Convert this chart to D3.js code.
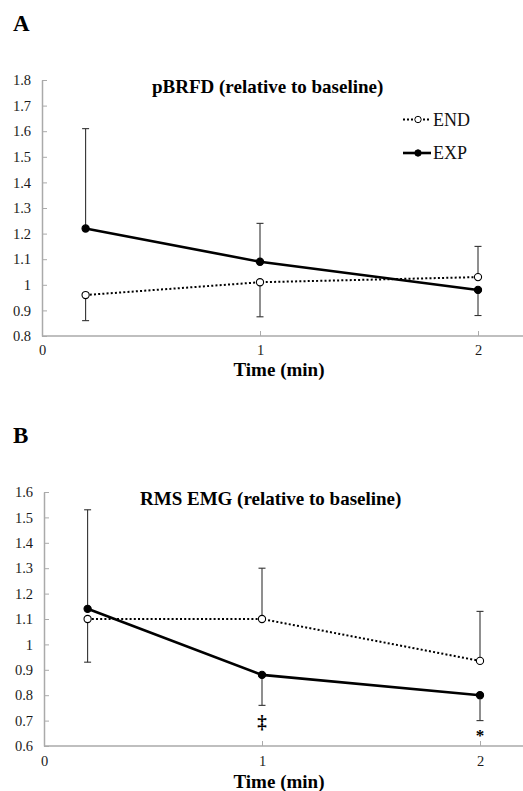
<!DOCTYPE html>
<html lang="en">
<head>
    <meta charset="UTF-8">
    <title>pBRFD and RMS EMG</title>
    <script src="https://d3js.org/d3.v7.min.js"></script>
    <style>
        body { margin: 0; background: #fff; }
        text { font-family: "Liberation Serif", "Times New Roman", serif; }
    </style>
</head>
<body>
    <script>
        // time points (min)
        const time = [0.2, 1, 2];
        const xTicks = [0, 1, 2];

        // panel A: pBRFD relative to baseline
        const aExpMean = [1.22, 1.09, 0.98];
        const aExpSD   = [0.39, 0.15, 0.10];
        const aExpDir  = [1, 1, -1];
        const aEndMean = [0.96, 1.01, 1.03];
        const aEndSD   = [0.10, 0.135, 0.12];
        const aEndDir  = [-1, -1, 1];
        const aTicks = [0.8, 0.9, 1, 1.1, 1.2, 1.3, 1.4, 1.5, 1.6, 1.7, 1.8];

        // panel B: RMS EMG relative to baseline
        const bExpMean = [1.14, 0.88, 0.80];
        const bExpSD   = [0.39, 0.12, 0.10];
        const bExpDir  = [1, -1, -1];
        const bEndMean = [1.10, 1.10, 0.935];
        const bEndSD   = [0.17, 0.20, 0.195];
        const bEndDir  = [-1, 1, 1];
        const bTicks = [0.6, 0.7, 0.8, 0.9, 1, 1.1, 1.2, 1.3, 1.4, 1.5, 1.6];
        const bMarks = [null, "‡", "*"];

        const w = 523;
        const h = 791;

        const svg = d3.select("body")
                        .append("svg")
                        .attr("width", w)
                        .attr("height", h);

        function series(mean, sd, dir) {
            return time.map((t, i) => ({t: t, v: mean[i], e: mean[i] + dir[i] * sd[i]}));
        }

        function drawPanel(p) {
            const g = svg.append("g");

            const xScale = d3.scaleLinear()
                         .domain([0, 2.21])
                         .range([p.left, p.left + 2.21 * 218]);
            const yScale = d3.scaleLinear()
                         .domain([p.ticks[0], p.ticks[p.ticks.length - 1]])
                         .range([p.bottom, p.top]);

            // panel letter
            g.append("text")
                .attr("x", 13).attr("y", p.letterY)
                .style("font-size", "23px").style("font-weight", "bold")
                .text(p.letter);

            const fmt = d => (d === 1 ? "1" : d3.format(".1f")(d));

            const yAxis = d3.axisLeft(yScale)
                .tickValues(p.ticks)
                .tickFormat(fmt)
                .tickSizeInner(-5)
                .tickSizeOuter(0)
                .tickPadding(11);
            const ya = g.append("g")
                .attr("transform", "translate(" + p.left + ",0)")
                .call(yAxis);

            const xAxis = d3.axisBottom(xScale)
                .tickValues(xTicks)
                .tickFormat(d3.format("d"))
                .tickSizeInner(-5)
                .tickSizeOuter(0)
                .tickPadding(p.xPad);
            const xa = g.append("g")
                .attr("transform", "translate(0," + p.bottom + ")")
                .call(xAxis);

            [ya, xa].forEach(a => {
                a.select(".domain").attr("stroke", "#aaa").attr("stroke-width", 1.5);
                a.selectAll(".tick line").attr("stroke", "#aaa");
                a.selectAll(".tick text")
                    .style("font-size", "14.5px")
                    .style("font-family", "'Liberation Serif', serif")
                    .attr("fill", "#1a1a1a");
            });
            xa.select(".domain").attr("d", "M" + p.left + ",0H" + w);
            xa.selectAll(".tick").filter(d => d === 0).select("line").remove();

            // axis title
            g.append("text")
                .attr("x", 279).attr("y", p.bottom + p.xTitleOff)
                .attr("text-anchor", "middle")
                .style("font-size", "19px").style("font-weight", "bold")
                .text("Time (min)");

            // chart title
            g.append("text")
                .attr("x", p.titleX).attr("y", p.titleY)
                .style("font-size", "19px").style("font-weight", "bold")
                .text(p.title);

            const line = d3.line()
                .x(d => xScale(d.t))
                .y(d => yScale(d.v));

            const groups = [
                {data: p.end, dash: "2,2.2", width: 2, fill: "#fff"},
                {data: p.exp, dash: null, width: 2.6, fill: "#000"}
            ];

            // error bars
            groups.forEach(s => {
                const eb = g.append("g").attr("stroke", "#333").attr("stroke-width", 1.1);
                eb.selectAll("line.v")
                    .data(s.data).enter().append("line")
                    .attr("x1", d => xScale(d.t)).attr("x2", d => xScale(d.t))
                    .attr("y1", d => yScale(d.v)).attr("y2", d => yScale(d.e));
                eb.selectAll("line.c")
                    .data(s.data).enter().append("line")
                    .attr("x1", d => xScale(d.t) - 3.5).attr("x2", d => xScale(d.t) + 3.5)
                    .attr("y1", d => yScale(d.e)).attr("y2", d => yScale(d.e));
            });

            // lines
            groups.forEach(s => {
                g.append("path")
                    .datum(s.data)
                    .attr("fill", "none")
                    .attr("stroke", "#000")
                    .attr("stroke-width", s.width)
                    .attr("stroke-dasharray", s.dash)
                    .attr("d", line);
            });

            // markers
            groups.forEach(s => {
                g.selectAll(null)
                    .data(s.data).enter().append("circle")
                    .attr("cx", d => xScale(d.t))
                    .attr("cy", d => yScale(d.v))
                    .attr("r", 3.6)
                    .attr("fill", s.fill)
                    .attr("stroke", "#000")
                    .attr("stroke-width", 1.1);
            });

            // significance marks
            if (p.marks) {
                g.selectAll(null)
                    .data(time.map((t, i) => ({t: t, m: p.marks[i]})).filter(d => d.m))
                    .enter().append("text")
                    .attr("x", d => xScale(d.t))
                    .attr("y", d => d.m === "*" ? p.bottom - 5 : p.bottom - 18)
                    .attr("text-anchor", "middle")
                    .style("font-size", d => d.m === "*" ? "17px" : "19px")
                    .style("font-weight", "bold")
                    .text(d => d.m);
            }

            // legend
            if (p.legend) {
                const lg = g.append("g");
                const items = [
                    {label: "END", y: 119.5, dash: "2,2", width: 2, fill: "#fff"},
                    {label: "EXP", y: 153, dash: null, width: 2.6, fill: "#000"}
                ];
                items.forEach(it => {
                    lg.append("line")
                        .attr("x1", 403).attr("x2", 431)
                        .attr("y1", it.y).attr("y2", it.y)
                        .attr("stroke", "#000")
                        .attr("stroke-width", it.width)
                        .attr("stroke-dasharray", it.dash);
                    lg.append("circle")
                        .attr("cx", 418).attr("cy", it.y).attr("r", 3.2)
                        .attr("fill", it.fill).attr("stroke", "#000").attr("stroke-width", 1);
                    lg.append("text")
                        .attr("x", 433).attr("y", it.y + 6)
                        .style("font-size", "18px")
                        .attr("fill", "#111")
                        .text(it.label);
                });
            }
        }

        drawPanel({
            letter: "A", letterY: 31,
            title: "pBRFD (relative to baseline)", titleX: 152, titleY: 93,
            left: 42, top: 80, bottom: 336, xPad: 9, xTitleOff: 40,
            ticks: aTicks,
            exp: series(aExpMean, aExpSD, aExpDir),
            end: series(aEndMean, aEndSD, aEndDir),
            legend: true
        });

        drawPanel({
            letter: "B", letterY: 443,
            title: "RMS EMG (relative to baseline)", titleX: 140, titleY: 505,
            left: 44, top: 492, bottom: 746, xPad: 10, xTitleOff: 42,
            ticks: bTicks,
            exp: series(bExpMean, bExpSD, bExpDir),
            end: series(bEndMean, bEndSD, bEndDir),
            marks: bMarks
        });
    </script>
</body>
</html>
